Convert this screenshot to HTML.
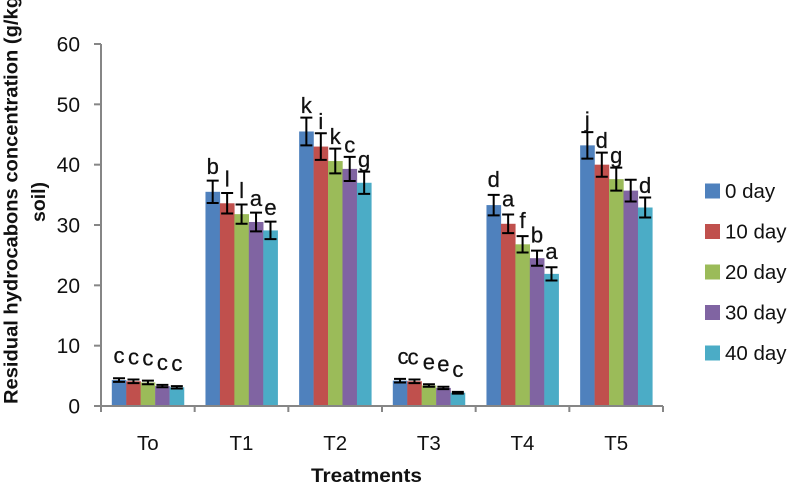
<!DOCTYPE html>
<html lang="en">
<head>
<meta charset="utf-8">
<title>Residual hydrocarbons by treatment</title>
<style>
html,body{margin:0;padding:0;background:#fff;width:787px;height:483px;overflow:hidden}
svg{display:block;font-family:"Liberation Sans",sans-serif}
</style>
</head>
<body>
<svg id="chart" xmlns="http://www.w3.org/2000/svg" width="787" height="483" viewBox="0 0 787 483">
<text transform="translate(17.5,404) rotate(-90)" font-size="19.5" font-weight="700" fill="#111" textLength="408" lengthAdjust="spacingAndGlyphs">Residual hydrocabons concentration (g/kg</text>
<text transform="translate(45,222) rotate(-90)" font-size="19.5" font-weight="700" fill="#111" textLength="40" lengthAdjust="spacingAndGlyphs">soil)</text>
<text x="366.5" y="482" text-anchor="middle" font-size="19.5" font-weight="700" fill="#111" textLength="111" lengthAdjust="spacingAndGlyphs">Treatments</text>
</svg>
<script>
const categories = ["To", "T1", "T2", "T3", "T4", "T5"];
const seriesNames = ["0 day", "10 day", "20 day", "30 day", "40 day"];
const seriesColors = ["#4F81BD", "#C0504D", "#9BBB59", "#8064A2", "#4BACC6"];
const yTicks = [0, 10, 20, 30, 40, 50, 60];

const day0 = [4.3, 35.5, 45.5, 4.2, 33.3, 43.2];
const day10 = [4.1, 33.6, 43.0, 4.1, 30.2, 40.0];
const day20 = [3.9, 31.8, 40.6, 3.4, 26.8, 37.6];
const day30 = [3.3, 30.5, 39.3, 3.0, 24.5, 35.7];
const day40 = [3.1, 29.1, 37.0, 2.2, 21.9, 32.9];

const err0 = [0.3, 1.85, 2.3, 0.3, 1.7, 2.2];
const err10 = [0.3, 1.7, 2.2, 0.3, 1.55, 2.0];
const err20 = [0.3, 1.6, 2.05, 0.2, 1.35, 1.9];
const err30 = [0.2, 1.55, 2.0, 0.2, 1.25, 1.8];
const err40 = [0.2, 1.45, 1.85, 0.15, 1.1, 1.65];

const letters0 = ["c", "b", "k", "c", "d", "j"];
const letters10 = ["c", "l", "i", "c", "a", "d"];
const letters20 = ["c", "l", "k", "e", "f", "g"];
const letters30 = ["c", "a", "c", "e", "b", ""];
const letters40 = ["c", "e", "g", "c", "a", "d"];

const seriesValues = [day0, day10, day20, day30, day40];
const seriesErrors = [err0, err10, err20, err30, err40];
const seriesLetters = [letters0, letters10, letters20, letters30, letters40];

const NS = "http://www.w3.org/2000/svg";
const svg = document.getElementById("chart");
const plot = { left: 101, right: 663, top: 44, bottom: 406 };
const yMax = 60;
const barWidth = 14.45;
const groupInset = 10.8;
const capHalf = 6;

function yScale(v) { return plot.bottom - (v / yMax) * (plot.bottom - plot.top); }
function groupLeft(i) { return plot.left + i * (plot.right - plot.left) / categories.length; }
function xScale(i, s) { return groupLeft(i) + groupInset + s * barWidth; }
function labelGap(i) { return (i === 0 || i === 3) ? 15 : (i === 1 ? 6.5 : (i === 4 ? 8 : 4.5)); }
function labelNudge(i, s) { return i === 3 ? (s === 0 ? 3 : (s === 1 ? -1.5 : 0)) : 0; }

function make(tag, attrs, text) {
  const el = document.createElementNS(NS, tag);
  for (const k in attrs) el.setAttribute(k, attrs[k]);
  if (text !== undefined) el.textContent = text;
  svg.appendChild(el);
  return el;
}

// bars
categories.forEach(function (cat, i) {
  seriesValues.forEach(function (vals, s) {
    const y = yScale(vals[i]);
    const bar = make("rect", { x: xScale(i, s), y: y, width: barWidth + 0.2, height: plot.bottom - y, fill: seriesColors[s] });
    
    
  });
});

// axes
const yAxis = make("line", { x1: plot.left, x2: plot.left, y1: plot.top, y2: plot.bottom + 6, stroke: "#868686", "stroke-width": 2 });


const xAxis = make("line", { x1: plot.left - 7, x2: plot.right, y1: plot.bottom, y2: plot.bottom, stroke: "#868686", "stroke-width": 2 });



yTicks.forEach(function (t) {
  const y = yScale(t);
  const tick = make("line", { x1: plot.left - 7, x2: plot.left, y1: y, y2: y, stroke: "#868686", "stroke-width": 2 });
  
  
  const label = make("text", { x: 80, y: y + 7.5, "text-anchor": "end", "font-size": 21, fill: "#111" }, String(t));
  
  
});

categories.forEach(function (cat, i) {
  const label = make("text", { x: groupLeft(i) + (plot.right - plot.left) / categories.length / 2, y: 450, "text-anchor": "middle", "font-size": 20.5, fill: "#111" }, cat);
  
  
});
for (let i = 0; i <= categories.length; i++) {
  const x = groupLeft(i);
  const tick = make("line", { x1: x, x2: x, y1: plot.bottom, y2: plot.bottom + 6, stroke: "#868686", "stroke-width": 2 });
  
  
}

// error bars and letters
categories.forEach(function (cat, i) {
  seriesValues.forEach(function (vals, s) {
    const cx = xScale(i, s) + barWidth / 2;
    const hi = yScale(vals[i] + seriesErrors[s][i]);
    const lo = yScale(vals[i] - seriesErrors[s][i]);
    const err = make("path", {
      d: "M" + (cx - capHalf) + " " + hi + "H" + (cx + capHalf) + "M" + cx + " " + hi + "V" + lo + "M" + (cx - capHalf) + " " + lo + "H" + (cx + capHalf),
      stroke: "#000", "stroke-width": 2, fill: "none"
    });
    
    
    const letter = seriesLetters[s][i];
    if (letter) {
      const t = make("text", { x: cx + labelNudge(i, s), y: hi - labelGap(i), "text-anchor": "middle", "font-size": 22, fill: "#111", stroke: "#111", "stroke-width": 0.25 }, letter);
      
      
    }
  });
});

// legend
seriesNames.forEach(function (name, s) {
  const cy = 191 + s * 40.5;
  const swatch = make("rect", { x: 705, y: cy - 7.5, width: 15, height: 15, fill: seriesColors[s] });
  
  
  const label = make("text", { x: 725, y: cy + 7, "font-size": 20.5, fill: "#111" }, name);
  
  
});
</script>
</body>
</html>
